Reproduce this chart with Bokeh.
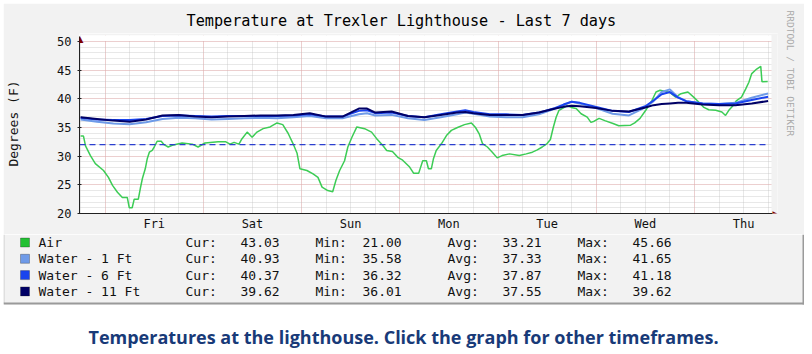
import math
from bokeh.plotting import figure
from bokeh.layouts import column
from bokeh.models import Range1d, FixedTicker, Label, BoxAnnotation, Title
from bokeh.embed import file_html
from bokeh.resources import INLINE

# ---------------- data ----------------
# time axis: hours since Thursday 00:00 of the first day
day_labels = ["Fri", "Sat", "Sun", "Mon", "Tue", "Wed", "Thu"]
label_hours = [36, 60, 84, 108, 132, 156, 180]          # noon of each day
midnight_hours = [24, 48, 72, 96, 120, 144, 168]
six_hour_marks = list(range(18, 187, 6))
x_start, x_end = 17.73, 186.1
y_start, y_end = 20, 50

y_ticks = [20, 25, 30, 35, 40, 45, 50]
y_minor = list(range(20, 51))

air_hours = [18.0, 18.7, 19.2, 20.4, 21.6, 23.6, 24.8, 25.8, 27.0, 28.2,
             29.4, 29.9, 30.6, 31.1, 32.1, 32.6, 33.1, 33.8, 34.3, 34.8,
             35.5, 36.0, 36.7, 37.7, 38.4, 39.4, 40.4, 42.8, 45.3, 46.7,
             48.4, 51.6, 53.5, 54.5, 55.5, 56.7, 57.4, 58.7, 59.9, 61.1,
             62.6, 64.3, 66.0, 67.4, 68.7, 69.9, 70.9, 71.6, 73.3, 74.8,
             76.0, 77.0, 78.4, 79.6, 80.4, 81.3, 82.5, 83.3, 84.3, 85.5,
             87.4, 89.1, 90.3, 91.8, 92.8, 94.2, 95.5, 96.7, 98.4, 99.4,
             100.6, 101.6, 102.5, 103.0, 103.7, 104.2, 104.9, 106.2, 107.4, 108.6,
             110.1, 111.8, 113.5, 114.5, 115.4, 116.2, 117.4, 118.6, 119.8, 121.0,
             122.8, 125.2, 126.9, 128.4, 129.6, 130.8, 132.0, 132.8, 133.5, 134.2,
             134.9, 136.2, 136.9, 137.9, 139.1, 140.3, 141.8, 142.7, 143.5, 144.7,
             146.1, 148.1, 149.5, 152.4, 153.4, 154.7, 156.1, 157.6, 158.6, 159.6,
             161.0, 162.2, 163.4, 164.7, 166.4, 167.8, 169.1, 170.3, 171.5, 173.2,
             174.7, 175.6, 176.4, 177.4, 178.3, 179.5, 180.5, 181.3, 182.0, 183.2,
             184.2, 184.5, 185.9]
air_temps = [33.5, 33.5, 31.8, 30.1, 28.7, 27.5, 26.3, 24.9, 23.7, 22.8,
             22.8, 21.0, 21.0, 22.5, 22.5, 24.4, 26.1, 27.8, 29.6, 30.7,
             31.0, 31.6, 32.6, 32.6, 32.0, 31.6, 31.9, 32.3, 32.1, 31.6,
             32.3, 32.5, 32.5, 32.1, 32.4, 32.1, 33.0, 34.2, 33.3, 34.2,
             34.8, 35.1, 35.8, 35.5, 34.0, 32.2, 30.5, 27.8, 27.5, 26.9,
             26.3, 24.6, 24.0, 23.8, 25.8, 27.5, 29.2, 31.6, 33.3, 35.1,
             34.8, 34.2, 33.1, 31.9, 31.0, 30.8, 29.8, 29.3, 28.1, 27.0,
             27.0, 29.2, 29.2, 27.8, 27.8, 29.5, 31.0, 32.2, 33.6, 34.5,
             35.0, 35.5, 35.8, 35.0, 33.9, 32.2, 31.6, 30.7, 29.7, 30.1,
             30.4, 30.1, 30.4, 30.7, 31.1, 31.6, 32.2, 32.9, 35.0, 36.8,
             38.0, 38.5, 38.8, 38.5, 38.3, 37.4, 36.8, 35.9, 36.1, 36.6,
             36.2, 35.7, 35.3, 35.4, 35.8, 36.6, 38.0, 39.7, 41.2, 41.5,
             41.3, 41.0, 40.3, 40.9, 41.2, 40.3, 39.4, 38.5, 38.1, 38.0,
             37.7, 37.1, 38.0, 38.8, 39.7, 40.3, 41.7, 42.9, 44.4, 45.2,
             45.66, 43.0, 43.03]

water_hours = [18, 22, 26, 30, 34, 38, 42, 46, 50, 54, 58, 62, 66, 70, 74, 78, 82,
               86, 88, 90, 94, 98, 102, 106, 110, 112, 114, 118, 122, 126, 130, 134,
               136, 138, 140, 144, 148, 152, 156, 158, 160, 162, 164, 166,
               170, 174, 178, 182, 186]
water_1ft = [36.4, 36.0, 35.7, 35.58, 35.9, 36.5, 36.7, 36.6, 36.4, 36.5, 36.6, 36.7, 36.6, 36.8, 37.0, 36.6, 36.6,
             37.3, 37.5, 37.1, 37.2, 36.6, 36.3, 36.8, 37.3, 37.6, 37.4, 36.9, 36.8, 36.8, 37.3, 38.3,
             38.9, 39.5, 39.2, 38.4, 37.4, 37.1, 38.5, 39.6, 41.2, 41.65, 40.3, 39.6,
             39.2, 39.1, 39.3, 40.2, 40.93]
water_6ft = [36.7, 36.4, 36.3, 36.32, 36.5, 37.0, 37.1, 37.0, 36.9, 37.0, 37.0, 37.0, 37.0, 37.1, 37.3, 36.9, 36.9,
             37.9, 38.0, 37.5, 37.6, 37.0, 36.8, 37.3, 37.8, 38.0, 37.7, 37.3, 37.3, 37.2, 37.6, 38.4,
             39.0, 39.5, 39.3, 38.6, 37.9, 37.7, 38.7, 39.7, 40.8, 41.18, 40.2, 39.6,
             39.2, 39.1, 39.2, 39.8, 40.37]
water_11ft = [36.8, 36.5, 36.2, 36.01, 36.4, 37.1, 37.2, 36.9, 36.8, 36.9, 37.0, 37.1, 37.1, 37.2, 37.5, 36.9, 36.9,
              38.3, 38.3, 37.6, 37.8, 37.0, 36.8, 37.2, 37.6, 37.7, 37.5, 37.2, 37.2, 37.2, 37.6, 38.3,
              38.6, 38.8, 38.7, 38.4, 37.9, 37.8, 38.5, 38.9, 39.1, 39.2, 39.3, 39.3,
              39.0, 38.9, 38.9, 39.2, 39.62]
freezing = 32

series_names = ["Air", "Water - 1 Ft", "Water - 6 Ft", "Water - 11 Ft"]
series_colors = ["#3ccc55", "#6e9ae8", "#1a44ee", "#000066"]
legend_colors = ["#22c033", "#6e9ae8", "#1a44ee", "#000066"]
cur_vals = ["43.03", "40.93", "40.37", "39.62"]
min_vals = ["21.00", "35.58", "36.32", "36.01"]
avg_vals = ["33.21", "37.33", "37.87", "37.55"]
max_vals = ["45.66", "41.65", "41.18", "39.62"]

title_text = "Temperature at Trexler Lighthouse - Last 7 days"
ylabel_text = "Degrees (F)"
credit_text = "RRDTOOL / TOBI OETIKER"
caption_text = "Temperatures at the lighthouse. Click the graph for other timeframes."

# ---------------- geometry (page pixels) ----------------
MONO = "DejaVu Sans Mono"
GRAY = "#f2f2f2"
PAGE_W = 812
A_X0, A_Y0, A_W, A_H = 3, 3, 801, 231          # main chart canvas on the page
B_X0, B_Y0, B_W, B_H = 3, 234, 801, 120        # legend + caption canvas on the page
DL, DR, DT, DB = 79, 770, 41, 213              # data area on the page
FL, FR, FT, FB = 79, 779, 33, 213              # plot frame on the page (room for arrows)
XS = (x_end - x_start) / (DR - DL)
YS = (y_end - y_start) / (DB - DT)


def cbox(l, r, t, b, fill, x0, y0, line=None, level="underlay"):
    return BoxAnnotation(left=l - x0, right=r - x0, top=t - y0, bottom=b - y0,
                         left_units="canvas", right_units="canvas",
                         top_units="canvas", bottom_units="canvas",
                         fill_color=fill, fill_alpha=1.0, line_color=line, line_width=1, level=level)


def clabel(x, y, text, x0, y0, **kw):
    return Label(x=x - x0, y=y - y0, x_units="canvas", y_units="canvas", text=text, **kw)


# ---------------- main chart ----------------
p = figure(width=A_W, height=A_H, output_backend="svg", toolbar_location=None, title=None,
           x_range=Range1d(x_start, x_start + (FR - FL) * XS),
           y_range=Range1d(y_start, y_start + (FB - FT) * YS),
           min_border_left=FL - A_X0, min_border_right=A_X0 + A_W - FR,
           min_border_top=FT - A_Y0, min_border_bottom=A_Y0 + A_H - FB,
           margin=(3, PAGE_W - A_X0 - A_W, 0, 3))
p.frame_align = False
p.border_fill_color = GRAY
p.background_fill_color = "white"
p.outline_line_color = None

p.add_layout(Title(text=title_text, align="left", offset=186 - DL, standoff=8,
                   text_font=MONO, text_font_size="15.2px", text_font_style="normal",
                   text_color="#000000"), "above")
p.add_layout(Title(text=credit_text, align="left", offset=-23, standoff=14,
                   text_font=MONO, text_font_size="9.5px", text_font_style="normal",
                   text_color="#a8a8a8"), "right")

xa = p.xaxis[0]
xa.ticker = FixedTicker(ticks=label_hours)
xa.major_label_overrides = {h: d for h, d in zip(label_hours, day_labels)}
xa.bounds = (x_start, x_start + (774 - DL) * XS)
xa.axis_line_color = "#222222"
xa.major_tick_line_color = None
xa.minor_tick_line_color = None
xa.major_tick_out = 0
xa.major_label_standoff = 3
xa.major_label_text_font = MONO
xa.major_label_text_font_size = "12px"
xa.major_label_text_color = "#111111"

ya = p.yaxis[0]
ya.ticker = FixedTicker(ticks=y_ticks, minor_ticks=y_minor)
ya.bounds = (y_start, y_end + (DT - 36) * YS)
ya.axis_line_color = "#222222"
ya.major_tick_line_color = "#222222"
ya.major_tick_out = 2
ya.major_tick_in = 2
ya.minor_tick_line_color = None
ya.major_label_standoff = 4
ya.major_label_text_font = MONO
ya.major_label_text_font_size = "12px"
ya.major_label_text_color = "#111111"
ya.axis_label = ylabel_text
ya.axis_label_standoff = 33
ya.axis_label_text_font = MONO
ya.axis_label_text_font_size = "13px"
ya.axis_label_text_font_style = "normal"
ya.axis_label_text_color = "#111111"

p.xgrid.ticker = FixedTicker(ticks=midnight_hours, minor_ticks=six_hour_marks)
for g in (p.xgrid[0], p.ygrid[0]):
    g.grid_line_color = "#f2a0a0"
    g.grid_line_alpha = 0.7
    g.grid_line_dash = "1 1"
    g.minor_grid_line_color = "#bcbcbc"
    g.minor_grid_line_alpha = 0.7
    g.minor_grid_line_dash = "1 1"

# trim the frame to the rrdtool canvas (grids stop at the data area)
for b in [cbox(FL, FR, FT, 35, GRAY, A_X0, A_Y0),
          cbox(FL + 1, DR + 1, 35, DT - 0.5, "white", A_X0, A_Y0),
          cbox(DR + 1, FR, FT, FB, GRAY, A_X0, A_Y0)]:
    p.add_layout(b)

# data lines
p.line(air_hours, air_temps, line_color=series_colors[0], line_width=1.5)
p.line(water_hours, water_1ft, line_color=series_colors[1], line_width=2)
p.line(water_hours, water_6ft, line_color=series_colors[2], line_width=2)
p.line(water_hours, water_11ft, line_color=series_colors[3], line_width=2)
p.line([x_start, x_end], [freezing, freezing], line_color="#2b3fd0", line_dash="6 4", line_width=1.2)

# axis arrow heads
p.add_layout(clabel(DL + 0.5, 38, "\u25B2", A_X0, A_Y0, text_align="center", text_baseline="middle",
                    text_font="DejaVu Sans", text_font_size="9px", text_color="#7f0000", level="overlay"))
p.add_layout(clabel(772, FB, "\u25B6", A_X0, A_Y0, text_align="left", text_baseline="middle",
                    text_font="DejaVu Sans", text_font_size="9px", text_color="#7f0000", level="overlay"))

# ---------------- legend + caption ----------------
q = figure(width=B_W, height=B_H, output_backend="svg", toolbar_location=None, title=None,
           x_range=Range1d(0, B_W), y_range=Range1d(0, B_H),
           x_axis_location=None, y_axis_location=None, min_border=0,
           margin=(0, PAGE_W - B_X0 - B_W, 0, 3))
q.frame_align = False
q.grid.visible = False
q.outline_line_color = None
q.border_fill_color = "white"
q.background_fill_color = "white"

for b in [cbox(3, 804, 234, 304, GRAY, B_X0, B_Y0),
          cbox(3, 4, 234, 303, "#cbcbcb", B_X0, B_Y0),
          cbox(802, 804, 234, 304, "#9a9a9a", B_X0, B_Y0),
          cbox(3, 804, 302, 304, "#9a9a9a", B_X0, B_Y0)]:
    q.add_layout(b)

for i, name in enumerate(series_names):
    yc = 242 + 16.3 * i
    q.add_layout(cbox(20, 29, yc - 4.5, yc + 4.5, legend_colors[i], B_X0, B_Y0,
                      line="#1a1a1a", level="annotation"))
    for xpos, txt in [(38, name), (185, "Cur:"), (240, cur_vals[i]), (315, "Min:"),
                      (362, min_vals[i]), (447, "Avg:"), (502, avg_vals[i]),
                      (577, "Max:"), (632, max_vals[i])]:
        q.add_layout(clabel(xpos, yc, txt, B_X0, B_Y0, text_align="left", text_baseline="middle",
                            text_font=MONO, text_font_size="13px", text_color="#111111"))

q.add_layout(clabel(403, 336, caption_text, B_X0, B_Y0, text_align="center", text_baseline="middle",
                    text_font="Open Sans", text_font_style="bold", text_font_size="18px",
                    text_color="#183a78"))

layout = column(p, q, spacing=0)
open("out.html", "w").write(file_html(layout, INLINE))
